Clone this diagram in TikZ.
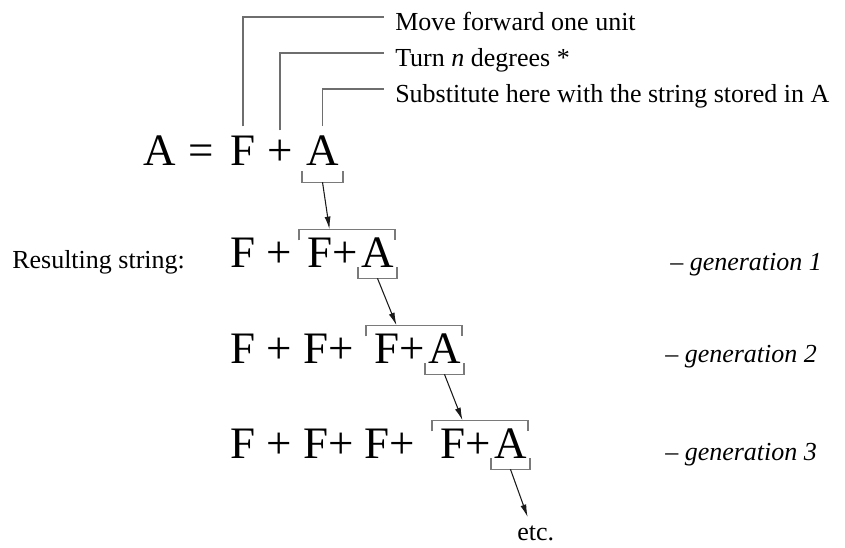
\documentclass[tikz,border=0pt]{standalone}
\usepackage{fontspec}
\setmainfont{Liberation Serif}
\usepackage{tikz}
\usetikzlibrary{calc,arrows.meta}
\definecolor{leaderGrey}{HTML}{6E6E6E}
\definecolor{bracketGrey}{HTML}{7A7A7A}
\definecolor{arrowInk}{HTML}{1A1A1A}
\tikzset{
  symbox/.style={inner sep=0pt, anchor=base west, font=\fontsize{33.75}{36}\selectfont},
  notetext/.style={inner sep=0pt, anchor=base west, font=\fontsize{19.5}{22}\selectfont},
  gentext/.style={notetext, font=\fontsize{19.5}{22}\selectfont\itshape},
  leaderline/.style={draw=leaderGrey, line width=1.3pt},
  bracketline/.style={draw=bracketGrey, line width=1pt},
  subarrow/.style={-{Latex[length=9.5pt,width=4.5pt]}, line width=0.8pt, draw=arrowInk},
}

\begin{document}
\begin{tikzpicture}[x=0.75pt,y=-0.75pt]
      \useasboundingbox (0,0) rectangle (845,547);

      % the rule
      \node[symbox] (lhs) at (143,165) {A};
      \node[symbox] (eq) at (188,165) {=};
      \node[symbox] (fwd) at (230,165) {F};
      \node[symbox] (turn) at (267,165) {+};
      \node[symbox] (sub0) at (306,165) {A};

      \node[notetext] (lblmove) at (395,30) {Move forward one unit};
      \node[notetext] (lblturn) at (395,66) {Turn \textit{n} degrees *};
      \node[notetext] (lblsub) at (395,102) {Substitute here with the string stored in A};

      \draw[leaderline] ([shift={(0,-9)}]fwd.north) |- ([shift={(-11,-13)}]lblmove.base west);
      \draw[leaderline] ([shift={(0,-9)}]turn.north) |- ([shift={(-11,-13)}]lblturn.base west);
      \draw[leaderline] ([shift={(0,-9)}]sub0.north) |- ([shift={(-11,-13)}]lblsub.base west);

      \draw[bracketline] ([shift={(-4,6)}]sub0.south west) -- ++(0,11) -| ([shift={(4,6)}]sub0.south east);
      \coordinate (out0) at ([shift={(0,17)}]sub0.south);

      % generations
      \node[notetext] (result) at (12,268) {Resulting string:};

      \node[symbox] (pre1) at (230,267) {F +};
      \node[symbox] (fa1) at (307,267) {F+};
      \node[symbox] (sub1) at ([shift={(3,0)}]fa1.base east) {A};

      \node[symbox] (pre2) at (230,363) {F + F+};
      \node[symbox] (fa2) at (374,363) {F+};
      \node[symbox] (sub2) at ([shift={(3,0)}]fa2.base east) {A};

      \node[symbox] (pre3) at (230,458) {F + F+ F+};
      \node[symbox] (fa3) at (440,458) {F+};
      \node[symbox] (sub3) at ([shift={(3,0)}]fa3.base east) {A};

      \foreach \g in {1,2,3}{
        \draw[bracketline] ([shift={(-8,3)}]fa\g.north west) -- ++(0,-11) -| ([shift={(1,3)}]sub\g.north east);
        \coordinate (in\g) at ([shift={(-3,-8)}]fa\g.north);
        \draw[bracketline] ([shift={(-3,0)}]sub\g.south west) -- ++(0,11) -| ([shift={(3,0)}]sub\g.south east);
        \coordinate (out\g) at ([shift={(0,11)}]sub\g.south);
      }

      \node[gentext] (gen1) at (670,270) {-- generation 1};
      \node[gentext] (gen2) at (665,362) {-- generation 2};
      \node[gentext] (gen3) at (665,460) {-- generation 3};

      \node[notetext] (etc) at (517,540) {etc.};

      \draw[subarrow] (out0) -- (in1);
      \draw[subarrow] (out1) -- (in2);
      \draw[subarrow] (out2) -- (in3);
      \draw[subarrow] (out3) -- ([shift={(-8,-8)}]etc.north);
    \end{tikzpicture}
\end{document}
